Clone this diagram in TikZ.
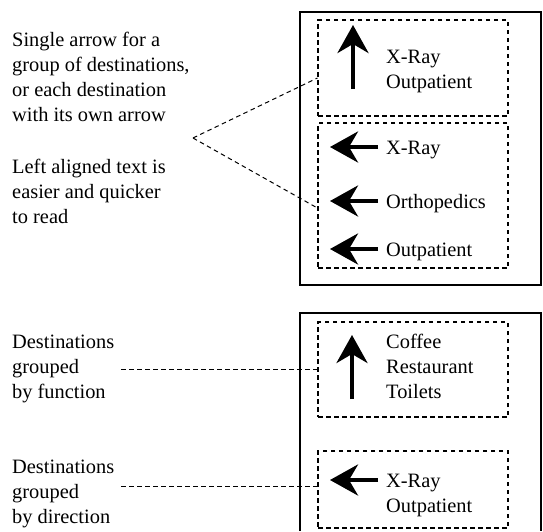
\documentclass[tikz,border=0pt]{standalone}
\usepackage{fontspec}
\setmainfont{Liberation Serif}
\usetikzlibrary{arrows.meta}
\begin{document}
\begin{tikzpicture}[x=1pt, y=-1pt, >={Stealth[length=28pt, width=31pt, inset=9pt]},
    every node/.style={font=\fontsize{20.4}{25}\selectfont, inner sep=0pt, align=left, anchor=base west},
    grpbox/.style={draw, dashed, dash pattern=on 4.5pt off 3.5pt, line width=1.2pt, minimum width=190pt, anchor=center},
    lead/.style={dashed, dash pattern=on 4.5pt off 3.5pt, line width=1pt},
    signarrow/.style={->, line width=4pt}]
  \useasboundingbox (0, 0) rectangle (543, 531);
  % upper panel (multi-line nodes sit on their last baseline)
  \draw[line width=1.4pt] (300, 12) rectangle (541, 285);
  \node[grpbox, minimum height=96pt] (grp1) at (413, 68) {};
  \node[grpbox, minimum height=145pt] (grp2) at (413, 195.5) {};
  \draw[signarrow] (353, 89) -- (353, 25);
  \node (up1) at (386, 88.3) {X-Ray\\Outpatient};
  \foreach \y/\t in {147/X-Ray, 201/Orthopedics, 249/Outpatient} {
    \draw[signarrow] (378, \y) -- (330, \y);
    \node at (386, \y+7) {\t};
  }
  \node (note1) at (12, 121.7) {Single arrow for a\\group of destinations,\\or each destination\\with its own arrow};
  \node (note2) at (12, 223) {Left aligned text is\\easier and quicker\\to read};
  \coordinate (apex) at (193, 138);
  \draw[lead] (apex) -- ([yshift=-10pt]grp1.west);
  \draw[lead] (apex) -- ([yshift=-12.5pt]grp2.west);
  % lower panel
  \draw[line width=1.4pt] (300, 531) -- (300, 313) -- (541, 313) -- (541, 531);
  \node[grpbox, minimum height=95pt] (grp3) at (413, 369.5) {};
  \node[grpbox, minimum height=77pt] (grp4) at (413, 489.5) {};
  \draw[signarrow] (352, 399) -- (352, 335);
  \node (func) at (386, 398) {Coffee\\Restaurant\\Toilets};
  \draw[signarrow] (378, 480) -- (330, 480);
  \node (dir) at (386, 512) {X-Ray\\Outpatient};
  \node (note3) at (12, 398) {Destinations\\grouped\\by function};
  \node (note4) at (12, 523) {Destinations\\grouped\\by direction};
  \coordinate (lead3) at (121, 369);
  \coordinate (lead4) at (121, 486);
  \draw[lead] (lead3) -- (lead3 -| grp3.west);
  \draw[lead] (lead4) -- (lead4 -| grp4.west);
\end{tikzpicture}
\end{document}
